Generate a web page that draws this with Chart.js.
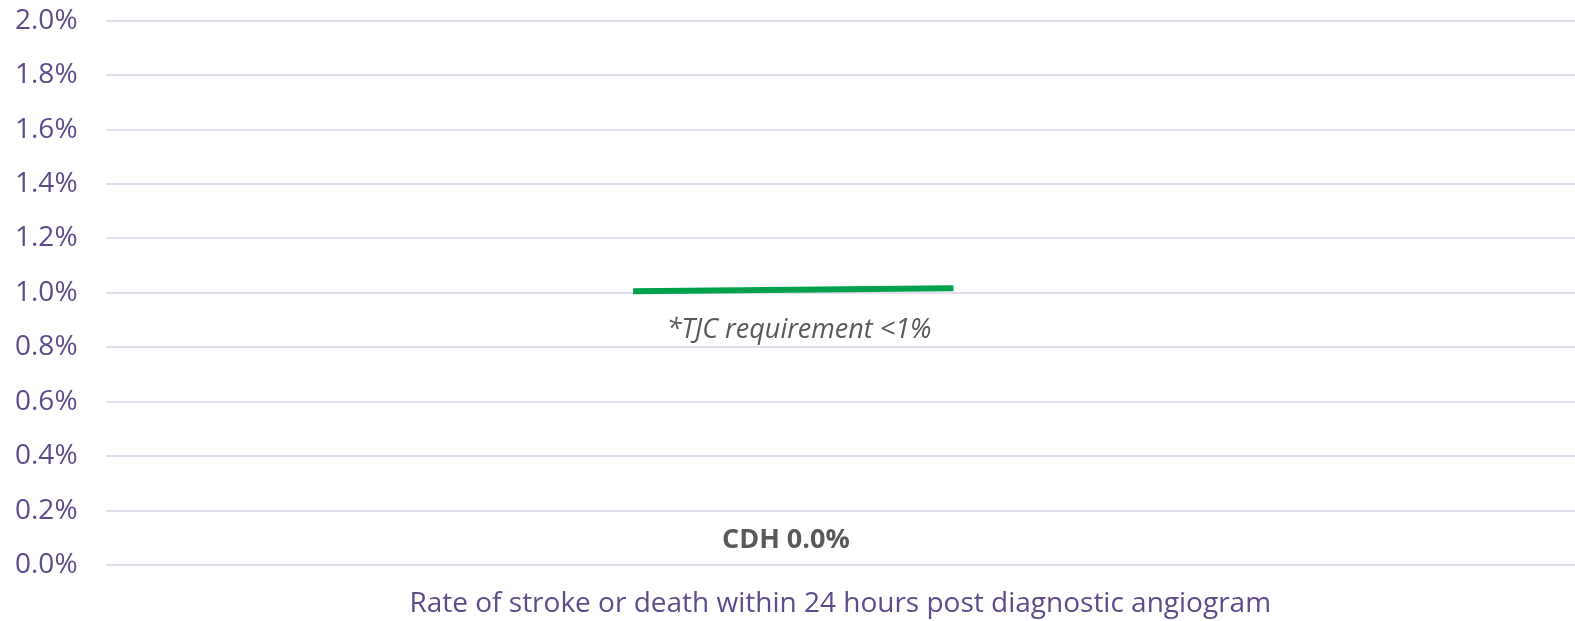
<!DOCTYPE html>
<html>
<head>
<meta charset="utf-8">
<script src="https://cdn.jsdelivr.net/npm/chart.js@4"></script>
<style>
  html, body { margin: 0; padding: 0; background: #fff; }
  #wrap { width: 1575px; height: 621px; }
</style>
</head>
<body>
<div id="wrap"><canvas id="chart"></canvas></div>
<script>
const categories = ['Rate of stroke or death within 24 hours post diagnostic angiogram'];
const cdhValues = [0.0];
const cdhLabel = 'CDH';
// TJC target line (drawn as a short slightly tilted marker around 1%)
const targetX = [0.359, 0.577];
const targetY = [1.006, 1.017];
const targetNote = '*TJC requirement <1%';
const yTicks = [0, 0.2, 0.4, 0.6, 0.8, 1.0, 1.2, 1.4, 1.6, 1.8, 2.0];

const purple = '#5F4B8B';
const font = '"Open Sans", "Noto Sans", sans-serif';

const notes = {
  id: 'notes',
  afterDatasetsDraw(chart) {
    const ctx = chart.ctx;
    const xs = chart.scales.x2, ys = chart.scales.y;
    ctx.save();
    ctx.textAlign = 'center';
    ctx.textBaseline = 'middle';
    // note under the target line
    ctx.fillStyle = '#595959';
    ctx.font = 'italic 27px ' + font;
    ctx.fillText(targetNote, xs.getPixelForValue(0.472), ys.getPixelForValue(0.862));
    // data label for the CDH value
    ctx.font = 'bold 27px ' + font;
    ctx.fillText(cdhLabel + ' ' + cdhValues[0].toFixed(1) + '%', xs.getPixelForValue(0.463), ys.getPixelForValue(0.092));
    ctx.restore();
  }
};

new Chart(document.getElementById('chart'), {
  type: 'bar',
  data: {
    labels: categories,
    datasets: [{
      label: cdhLabel,
      data: cdhValues,
      backgroundColor: '#5F4B8B',
      xAxisID: 'x'
    }, {
      type: 'line',
      label: 'TJC',
      data: targetX.map((x, i) => ({ x: x, y: targetY[i] })),
      borderColor: '#00A14B',
      borderWidth: 6,
      pointRadius: 0,
      xAxisID: 'x2'
    }]
  },
  options: {
    responsive: true,
    maintainAspectRatio: false,
    animation: false,
    layout: { padding: { left: 11, top: 3, right: 0, bottom: 0 } },
    plugins: { legend: { display: false }, tooltip: { enabled: false } },
    scales: {
      x: {
        grid: { display: false, drawTicks: false },
        border: { display: false },
        ticks: { color: purple, font: { family: font, size: 28 }, padding: 22 },
        afterFit: (scale) => { scale.height = 56; }
      },
      x2: {
        type: 'linear', min: 0, max: 1, display: false, offset: false
      },
      y: {
        min: 0, max: 2,
        afterBuildTicks: (axis) => { axis.ticks = yTicks.map(v => ({ value: v })); },
        grid: { color: '#E4DEEE', lineWidth: 2, drawTicks: true, tickLength: 24, tickColor: 'rgba(0,0,0,0)' },
        border: { display: false },
        ticks: {
          color: purple,
          font: { family: font, size: 28 },
          padding: 4,
          callback: (v) => v.toFixed(1) + '%'
        }
      }
    }
  },
  plugins: [notes]
});
</script>
</body>
</html>
